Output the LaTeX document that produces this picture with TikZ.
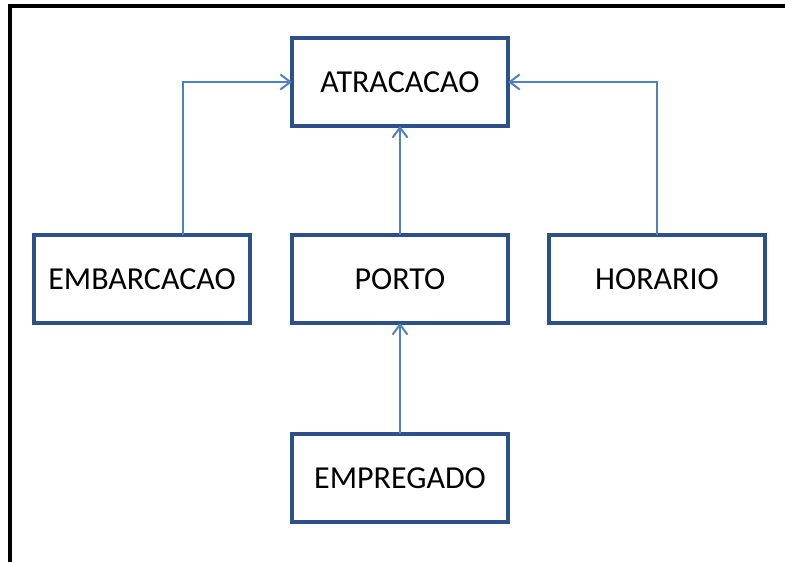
\documentclass[tikz,border=0pt]{standalone}
\usepackage{fontspec}
\setmainfont{Carlito}
\usepackage{tikz}
\usetikzlibrary{arrows.meta,%
                positioning}

\definecolor{boxblue}{HTML}{2C5189}
\definecolor{lineblue}{HTML}{4F81BD}

\tikzset{entity/.style={draw=boxblue, line width=1.75pt, fill=white,
                        minimum width=108pt, minimum height=44pt,
                        inner sep=0pt, outer sep=0pt,
                        font=\fontsize{16}{19}\selectfont},
         link/.style={draw=lineblue, line width=1pt,
                      -{Straight Barb[length=5pt,width=7.5pt,line width=1pt]}}}

\begin{document}
\begin{tikzpicture}[x=0.5pt,y=-0.5pt]
\useasboundingbox (0,0) rectangle (785,562);
\draw[line width=1.75pt] (10,562) -- (10,6) -- (785,6);

\node[entity] (ATRA) at (400,82) {ATRACACAO};
\node[entity] (EMBA) at (142,279) {EMBARCACAO};
\node[entity] (PORT) at (400,279) {PORTO};
\node[entity] (HORA) at (657,279) {HORARIO};
\node[entity] (EMPR) at (400,478) {EMPREGADO};

\draw[link] ([xshift=20.5pt]EMBA.north) |- (ATRA.west);
\draw[link] (HORA.north) |- (ATRA.east);
\draw[link] (PORT.north) -- (ATRA.south);
\draw[link] (EMPR.north) -- (PORT.south);

\end{tikzpicture}
\end{document}
